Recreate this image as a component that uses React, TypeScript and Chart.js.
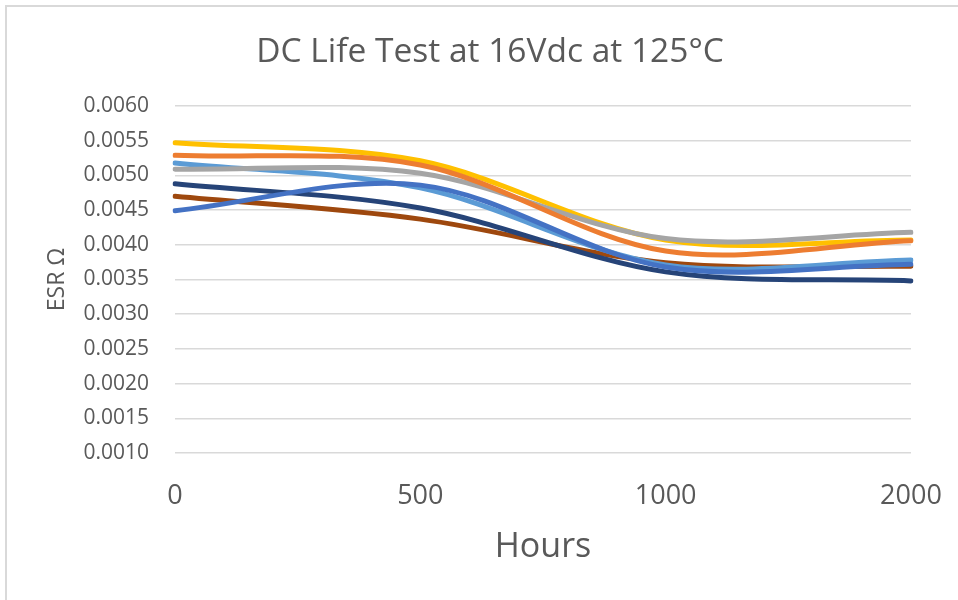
import React, { useEffect, useRef } from "react";
import { Chart, registerables } from "chart.js";

Chart.register(...registerables);

const TITLE = "DC Life Test at 16Vdc at 125°C";
const X_TITLE = "Hours";
const Y_TITLE = "ESR Ω";

const hours = ["0", "500", "1000", "2000"];

const seriesBlue = [0.00449, 0.00486, 0.00368, 0.00372];
const seriesOrange = [0.00529, 0.00515, 0.00391, 0.00406];
const seriesGray = [0.00509, 0.00503, 0.00409, 0.00418];
const seriesYellow = [0.00547, 0.00521, 0.00407, 0.00407];
const seriesLightBlue = [0.00518, 0.00482, 0.00371, 0.00378];
const seriesNavy = [0.00488, 0.00453, 0.00361, 0.00348];
const seriesBrown = [0.0047, 0.00437, 0.00374, 0.00369];

const Y_MIN = 0.001;
const Y_MAX = 0.006;
const Y_STEP = 0.0005;

const FONT = "'Open Sans', 'Noto Sans', sans-serif";
const TEXT = "#595959";
const GRID = "#D9D9D9";

export default function App() {
  const ref = useRef<HTMLCanvasElement | null>(null);

  useEffect(() => {
    if (!ref.current) return;
    const mk = (label: string, data: number[], color: string) => ({
      label,
      data,
      borderColor: color,
      backgroundColor: color,
      borderWidth: 5,
      pointRadius: 0,
      pointHoverRadius: 0,
      tension: 0.33,
      fill: false,
      borderCapStyle: "round" as const,
      borderJoinStyle: "round" as const,
    });

    const decor = {
      id: "decor",
      beforeDraw(chart: any) {
        const ctx = chart.ctx;
        ctx.save();
        ctx.fillStyle = "#ffffff";
        ctx.fillRect(0, 0, chart.width, chart.height);
        ctx.fillStyle = GRID;
        ctx.fillRect(5, 5, chart.width - 5, 2);
        ctx.fillRect(5, 5, 2, chart.height - 5);
        ctx.restore();
      },
      afterDraw(chart: any) {
        const ctx = chart.ctx;
        ctx.save();
        ctx.fillStyle = TEXT;
        ctx.font = `33.5px ${FONT}`;
        ctx.textAlign = "center";
        ctx.textBaseline = "middle";
        ctx.fillText(TITLE, 490, 52);
        ctx.restore();
      },
    };

    const chart = new Chart(ref.current, {
      type: "line",
      data: {
        labels: hours,
        datasets: [
          mk("Series 1", seriesBlue, "#4472C4"),
          mk("Series 2", seriesOrange, "#ED7D31"),
          mk("Series 3", seriesGray, "#A5A5A5"),
          mk("Series 4", seriesYellow, "#FFC000"),
          mk("Series 5", seriesLightBlue, "#5B9BD5"),
          mk("Series 6", seriesNavy, "#264478"),
          mk("Series 7", seriesBrown, "#9E480E"),
        ],
      },
      options: {
        animation: false,
        responsive: false,
        maintainAspectRatio: false,
        events: [],
        layout: { padding: { left: 0, right: 47, top: 106, bottom: 0 } },
        plugins: {
          legend: { display: false },
          title: { display: false },
          tooltip: { enabled: false },
        },
        scales: {
          x: {
            type: "category",
            offset: false,
            grid: { display: false, drawTicks: false },
            border: { display: false },
            ticks: {
              color: TEXT,
              font: { family: FONT, size: 27, lineHeight: 2.44 },
              padding: 10,
              autoSkip: false,
              maxRotation: 0,
              minRotation: 0,
            },
            title: {
              display: true,
              text: X_TITLE,
              color: TEXT,
              font: { family: FONT, size: 34 },
              padding: { top: 0, bottom: 32 },
            },
            afterFit(scale: any) {
              scale.height = 147;
            },
          },
          y: {
            type: "linear",
            min: Y_MIN,
            max: Y_MAX,
            grid: { color: GRID, lineWidth: 1.5, drawTicks: false },
            border: { display: false },
            ticks: {
              stepSize: Y_STEP,
              color: TEXT,
              font: { family: FONT, size: 21 },
              padding: 26,
              callback: (v: any) => Number(v).toFixed(4),
            },
            title: {
              display: true,
              text: Y_TITLE,
              color: TEXT,
              font: { family: FONT, size: 23 },
              padding: { top: 44, bottom: 0 },
            },
            afterFit(scale: any) {
              scale.width = 175;
            },
          },
        },
      },
      plugins: [decor],
    });
    return () => chart.destroy();
  }, []);

  return (
    <div style={{ position: "absolute", left: 0, top: 0, width: 958, height: 600 }}>
      <canvas ref={ref} width={958} height={600} style={{ width: 958, height: 600, display: "block" }} />
    </div>
  );
}
